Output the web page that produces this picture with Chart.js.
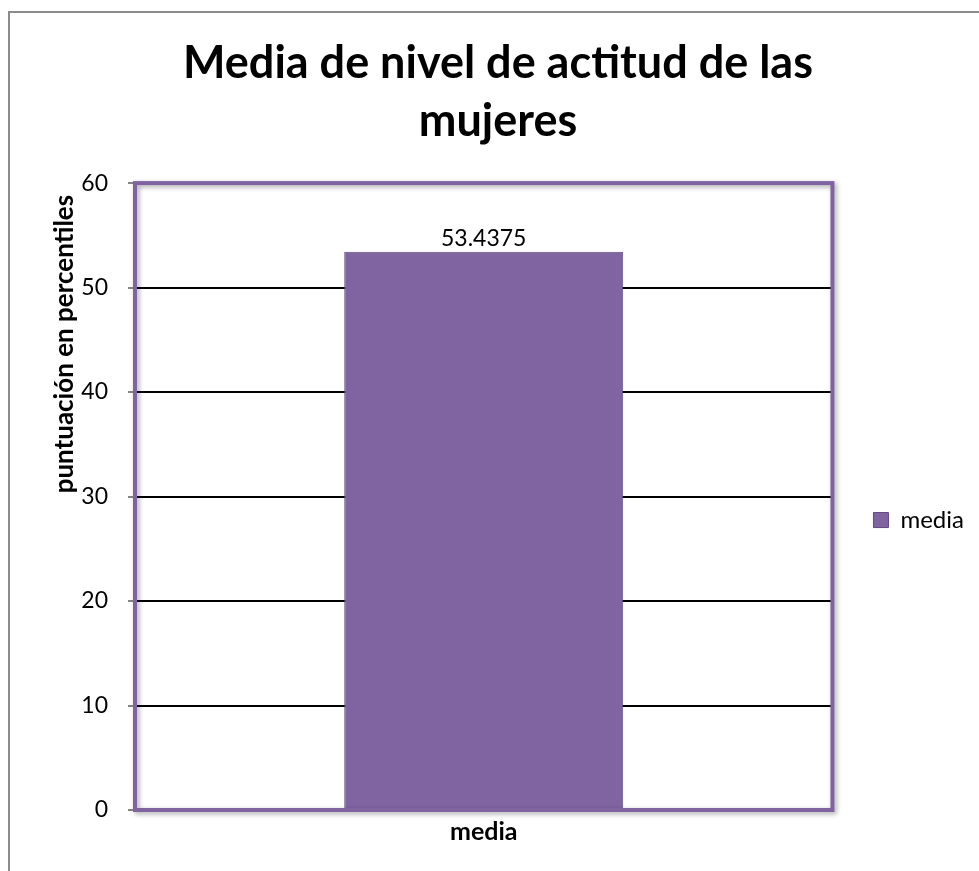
<!DOCTYPE html>
<html>
<head>
<meta charset="utf-8">
<script src="https://cdn.jsdelivr.net/npm/chart.js@4/dist/chart.umd.min.js"></script>
<style>
    html, body { margin: 0; padding: 0; background: #fff; }
    #wrap { width: 979px; height: 871px; }
</style>
</head>
<body>
<div id="wrap"><canvas id="chart" width="979" height="871"></canvas></div>
<script>
// Data
const CATEGORIES = ['media'];
const SERIES_LABEL = 'media';
const SERIES_VALUES = [53.4375];
const Y_TICKS = { min: 0, max: 60, step: 10 };
const TITLE_LINES = ['Media de nivel de actitud de las', 'mujeres'];
const Y_TITLE = 'puntuación en percentiles';

// Colors / fonts
const PURPLE = '#8064A2';
const PURPLE_DARK = '#5E4A7C';
const FONT = 'Lato, "Open Sans", sans-serif';

// Outer gray border of the chart object
const outerBorder = {
    id: 'outerBorder',
    beforeDraw(chart) {
        const ctx = chart.ctx;
        ctx.save();
        ctx.fillStyle = '#fff';
        ctx.fillRect(0, 0, chart.width, chart.height);
        ctx.strokeStyle = '#8c8c8c';
        ctx.lineWidth = 2;
        ctx.strokeRect(9, 12, chart.width + 10, chart.height + 10);
        ctx.restore();
    }
};

// Purple frame around the plot area with a soft shadow
const plotFrame = {
    id: 'plotFrame',
    afterDraw(chart) {
        const { ctx, chartArea: a } = chart;
        ctx.save();
        ctx.shadowColor = 'rgba(0,0,0,0.35)';
        ctx.shadowBlur = 5;
        ctx.shadowOffsetX = 2;
        ctx.shadowOffsetY = 2;
        ctx.strokeStyle = PURPLE;
        ctx.lineWidth = 4;
        ctx.strokeRect(a.left, a.top, a.right - a.left, a.bottom - a.top);
        ctx.restore();
    }
};

// Value label above each bar
const valueLabels = {
    id: 'valueLabels',
    afterDatasetsDraw(chart) {
        const ctx = chart.ctx;
        ctx.save();
        ctx.font = '23px ' + FONT;
        ctx.fillStyle = '#000';
        ctx.textAlign = 'center';
        ctx.textBaseline = 'bottom';
        chart.getDatasetMeta(0).data.forEach((bar, i) => {
            ctx.fillText(String(SERIES_VALUES[i]), bar.x, bar.y - 2);
        });
        ctx.restore();
    }
};

// Rotated y-axis title, sitting high like the original
const yTitle = {
    id: 'yTitle',
    afterDraw(chart) {
        const { ctx, chartArea: a } = chart;
        ctx.save();
        ctx.translate(a.left - 70, a.top + 161);
        ctx.rotate(-Math.PI / 2);
        ctx.font = 'bold 26px ' + FONT;
        ctx.fillStyle = '#000';
        ctx.textAlign = 'center';
        ctx.textBaseline = 'middle';
        ctx.fillText(Y_TITLE, 0, 0);
        ctx.restore();
    }
};

const ctx = document.getElementById('chart').getContext('2d');
new Chart(ctx, {
    type: 'bar',
    data: {
        labels: CATEGORIES,
        datasets: [{
            label: SERIES_LABEL,
            data: SERIES_VALUES,
            backgroundColor: PURPLE,
            borderColor: PURPLE_DARK,
            borderWidth: 1,
            barPercentage: 0.4,
            categoryPercentage: 1.0
        }]
    },
    options: {
        responsive: false,
        animation: false,
        layout: {
            padding: { left: 22, right: 5, top: 10, bottom: 17 }
        },
        plugins: {
            title: {
                display: true,
                text: TITLE_LINES,
                color: '#000',
                font: { family: FONT, size: 45, weight: 'bold', lineHeight: 1.29 },
                padding: { top: 24, bottom: 33 }
            },
            legend: {
                position: 'right',
                fullSize: false,
                // empty legend title just pushes the entry a bit lower
                title: { display: true, text: '', padding: { top: 35, bottom: 0 }, font: { size: 10 } },
                labels: {
                    color: '#000',
                    font: { family: FONT, size: 24 },
                    boxWidth: 15,
                    boxHeight: 15,
                    padding: 41
                }
            },
            tooltip: { enabled: false }
        },
        scales: {
            x: {
                grid: { display: false, drawTicks: false },
                border: { display: false },
                ticks: {
                    color: '#000',
                    padding: 7,
                    font: { family: FONT, size: 25, weight: 'bold' }
                }
            },
            y: {
                min: Y_TICKS.min,
                max: Y_TICKS.max,
                afterFit(scale) { scale.width = 113; },
                border: { display: false },
                grid: {
                    color: '#000',
                    lineWidth: 2,
                    tickColor: '#868686',
                    tickWidth: 2,
                    tickLength: 7
                },
                ticks: {
                    stepSize: Y_TICKS.step,
                    color: '#000',
                    padding: 20,
                    font: { family: FONT, size: 23 }
                }
            }
        }
    },
    plugins: [outerBorder, plotFrame, valueLabels, yTitle]
});
</script>
</body>
</html>
